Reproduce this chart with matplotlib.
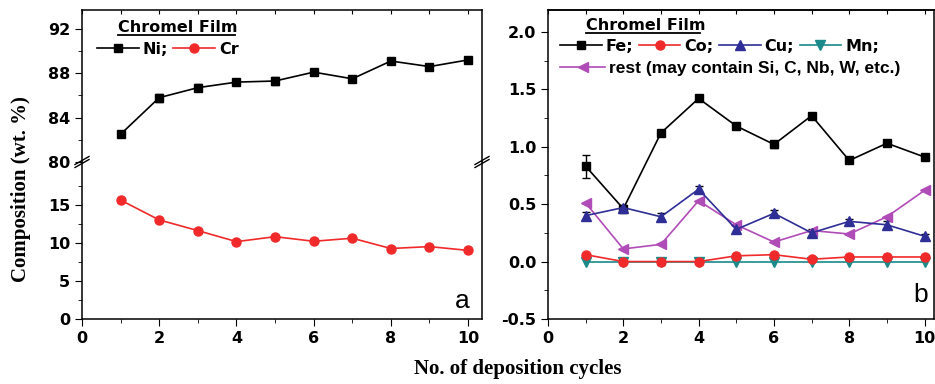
import matplotlib
matplotlib.use("Agg")
import matplotlib.pyplot as plt
from matplotlib.lines import Line2D
from matplotlib.ticker import MultipleLocator, FixedLocator

cycles = [1, 2, 3, 4, 5, 6, 7, 8, 9, 10]

ni = [82.5, 85.8, 86.7, 87.2, 87.3, 88.1, 87.5, 89.1, 88.6, 89.2]
ni_err = [0, 0.35, 0.3, 0, 0.35, 0, 0, 0, 0, 0]
cr = [15.6, 13.0, 11.6, 10.15, 10.8, 10.2, 10.6, 9.25, 9.5, 9.0]

fe = [0.83, 0.46, 1.12, 1.42, 1.18, 1.02, 1.27, 0.88, 1.03, 0.91]
fe_err = [0.1, 0, 0, 0, 0, 0.03, 0, 0, 0, 0]
co = [0.06, 0.0, 0.0, 0.0, 0.05, 0.06, 0.02, 0.04, 0.04, 0.04]
co_err = [0, 0, 0.03, 0, 0, 0, 0, 0, 0, 0]
cu = [0.40, 0.47, 0.39, 0.63, 0.28, 0.42, 0.25, 0.35, 0.32, 0.22]
cu_err = [0.03, 0.02, 0.03, 0.03, 0.03, 0.03, 0.03, 0.02, 0.03, 0.02]
mn = [0, 0, 0, 0, 0, 0, 0, 0, 0, 0]
rest = [0.51, 0.11, 0.15, 0.53, 0.32, 0.17, 0.27, 0.24, 0.39, 0.62]

RED = "#f02a2a"
BLUE = "#2e2e96"
TEAL = "#1a8a8a"
MAG = "#b04cb8"

SANS = "DejaVu Sans"
SERIF = "Liberation Serif"
plt.rcParams["font.family"] = SANS
plt.rcParams["font.weight"] = "bold"
plt.rcParams["font.size"] = 11.5
plt.rcParams["axes.linewidth"] = 1.1
plt.rcParams["axes.unicode_minus"] = False

fig = plt.figure(figsize=(9.35, 3.84), dpi=100)

L, R = 82 / 935, 482 / 935
TOP, BOT, BRK = 1 - 10 / 384, 1 - 319 / 384, 1 - 162 / 384

ax_up = fig.add_axes([L, BRK, R - L, TOP - BRK])
ax_lo = fig.add_axes([L, BOT, R - L, BRK - BOT])
ax_b = fig.add_axes([548 / 935, BOT, 934 / 935 - 548 / 935, TOP - BOT])

xmax = 10.36

# upper part (Ni)
ax_up.errorbar(cycles, ni, yerr=ni_err, color="black", marker="s",
               ms=6, lw=1.2, capsize=3, elinewidth=1)
ax_up.set_xlim(0, xmax)
ax_up.set_ylim(80, 93.7)
ax_up.spines["bottom"].set_visible(False)
ax_up.yaxis.set_major_locator(MultipleLocator(4))
ax_up.yaxis.set_minor_locator(MultipleLocator(2))
ax_up.xaxis.set_major_locator(MultipleLocator(1))
ax_up.tick_params(axis="x", bottom=False, labelbottom=False, top=True,
                  direction="in", length=3)
ax_up.tick_params(axis="y", which="major", direction="out", length=5)
ax_up.tick_params(axis="y", which="minor", direction="out", length=3)

# lower part (Cr)
ax_lo.plot(cycles, cr, color=RED, marker="o", ms=6.5, lw=1.2)
ax_lo.set_xlim(0, xmax)
ax_lo.set_ylim(0, 20.6)
ax_lo.spines["top"].set_visible(False)
ax_lo.yaxis.set_major_locator(FixedLocator([0, 5, 10, 15]))
ax_lo.yaxis.set_minor_locator(FixedLocator([2.5, 7.5, 12.5, 17.5]))
ax_lo.xaxis.set_major_locator(MultipleLocator(2))
ax_lo.xaxis.set_minor_locator(MultipleLocator(1))
ax_lo.tick_params(which="major", direction="out", length=5)
ax_lo.tick_params(which="minor", direction="out", length=3)
ax_lo.text(0.97, 0.04, "a", transform=ax_lo.transAxes, ha="right",
           va="bottom", fontsize=19, fontweight="normal",
           family="Liberation Sans")

# right panel
ax_b.errorbar(cycles, fe, yerr=fe_err, color="black", marker="s", ms=6,
              lw=1.2, capsize=3, elinewidth=1)
ax_b.errorbar(cycles, co, yerr=co_err, color=RED, marker="o", ms=6.5,
              lw=1.2, capsize=3, elinewidth=1)
ax_b.errorbar(cycles, cu, yerr=cu_err, color=BLUE, marker="^", ms=6.5,
              lw=1.2, ecolor="black", capsize=3, elinewidth=1)
ax_b.plot(cycles, mn, color=TEAL, marker="v", ms=6.5, lw=1.2)
ax_b.plot(cycles, rest, color=MAG, marker="<", ms=7, lw=1.2)
ax_b.set_xlim(0, 10.25)
ax_b.set_ylim(-0.5, 2.19)
ax_b.yaxis.set_major_locator(MultipleLocator(0.5))
ax_b.yaxis.set_minor_locator(MultipleLocator(0.25))
ax_b.xaxis.set_major_locator(MultipleLocator(2))
ax_b.xaxis.set_minor_locator(MultipleLocator(1))
ax_b.tick_params(which="major", direction="out", length=5)
ax_b.tick_params(which="minor", direction="out", length=3)
sec = ax_b.secondary_xaxis("top")
sec.xaxis.set_major_locator(MultipleLocator(1))
sec.tick_params(direction="in", length=3, labeltop=False)
ax_b.text(0.985, 0.04, "b", transform=ax_b.transAxes, ha="right",
          va="bottom", fontsize=19, fontweight="normal",
          family="Liberation Sans")


def proxy(color, marker, ms):
    return Line2D([], [], color=color, marker=marker, ms=ms, lw=1.2)


# legends
leg_kw = dict(frameon=False, handlelength=2.6, handletextpad=0.25,
              columnspacing=0.35, borderpad=0, borderaxespad=0)
prop = dict(family=SANS, weight="bold", size=11.5)

fig.text(118 / 935, 1 - 27 / 384, "Chromel Film", fontsize=11.5,
         fontweight="bold", va="center", ha="left")
fig.lines.append(Line2D([118 / 935, 235 / 935], [1 - 35 / 384] * 2,
                        transform=fig.transFigure, color="black", lw=1.3))
ax_up.legend([proxy("black", "s", 6), proxy(RED, "o", 6.5)], ["Ni;", "Cr"],
             ncol=2, loc="center left", prop=prop,
             bbox_to_anchor=(97 / 935, 1 - 49 / 384),
             bbox_transform=fig.transFigure, **leg_kw)

fig.text(586 / 935, 1 - 25 / 384, "Chromel Film", fontsize=11.5,
         fontweight="bold", va="center", ha="left")
fig.lines.append(Line2D([586 / 935, 700 / 935], [1 - 33 / 384] * 2,
                        transform=fig.transFigure, color="black", lw=1.3))
leg1 = ax_b.legend([proxy("black", "s", 6), proxy(RED, "o", 6.5),
                    proxy(BLUE, "^", 6.5), proxy(TEAL, "v", 6.5)],
                   ["Fe;", "Co;", "Cu;", "Mn;"], ncol=4, loc="center left",
                   prop=prop, bbox_to_anchor=(560 / 935, 1 - 46.5 / 384),
                   bbox_transform=fig.transFigure, **leg_kw)
ax_b.add_artist(leg1)
ax_b.legend([proxy(MAG, "<", 7)], ["rest (may contain Si, C, Nb, W, etc.)"],
            loc="center left",
            prop=dict(family="Liberation Sans", weight="bold", size=12.5),
            bbox_to_anchor=(560 / 935, 1 - 68.5 / 384),
            bbox_transform=fig.transFigure, **leg_kw)

# break marks
dx, dy, gap = 7 / 935, 4 / 384, 3 / 384
for xb in (L, R):
    for off in (-gap / 2, gap / 2):
        fig.lines.append(Line2D([xb - dx, xb + dx],
                                [BRK - dy + off, BRK + dy + off],
                                transform=fig.transFigure,
                                color="black", lw=1.0))

fig.text(0.022, 0.508, "Composition (wt. %)", rotation=90, ha="center",
         va="center", family=SERIF, fontweight="bold", fontsize=15)
fig.text(0.554, 0.039, "No. of deposition cycles", ha="center", va="center",
         family=SERIF, fontweight="bold", fontsize=15)

fig.savefig("out.png", dpi=100)
